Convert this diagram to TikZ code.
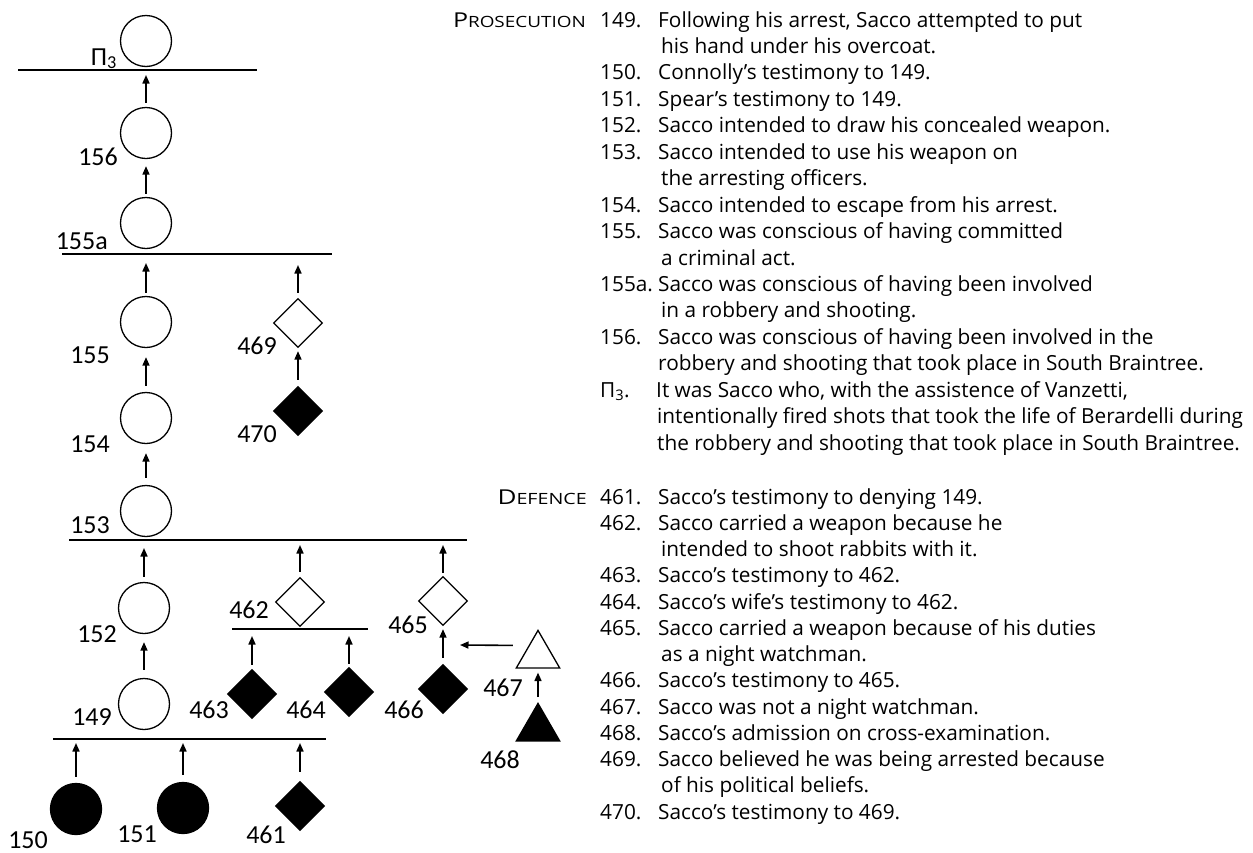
\documentclass[tikz,border=0pt]{standalone}
\usepackage{fontspec}
\usepackage{graphicx}
\setmainfont{Open Sans}
\newfontfamily\labfont{Carlito}
\usetikzlibrary{shapes.geometric,arrows.meta,calc}
\begin{document}
\begin{tikzpicture}[x=1pt,y=-1pt,
 circ/.style={circle,draw,line width=1.3pt,minimum size=51pt,inner sep=0pt},
 fcirc/.style={circ,fill=black},
 dia/.style={diamond,draw,line width=1.3pt,minimum size=49pt,inner sep=0pt},
 fdia/.style={dia,fill=black},
 tri/.style={regular polygon,regular polygon sides=3,draw,line width=1.3pt,minimum size=50pt,inner sep=0pt},
 ftri/.style={tri,fill=black},
 bar/.style={line width=1.6pt},
 arr/.style={line width=1.6pt,-{Triangle[length=8.5pt,width=7pt]}},
 lab/.style={anchor=base east,inner sep=0pt,font=\labfont\fontsize{26}{30}\selectfont},
 txt/.style={anchor=base west,inner sep=0pt,font=\fontsize{20.8}{24}\selectfont},
 head/.style={anchor=base east,inner sep=0pt,font=\fontsize{20.5}{24}\selectfont},
]
\useasboundingbox (0,0) rectangle (1253,852);

% ---------- bars ----------
\draw[bar] (18,70) -- (257,70);
\draw[bar] (62,254) -- (332,254);
\draw[bar] (69,540) -- (467,540);
\draw[bar] (232,629) -- (368,629);
\draw[bar] (53,739) -- (326,739);

% ---------- nodes ----------
\node[circ] (P3) at (146,41) {};
\node[circ] (c156) at (146,133) {};
\node[circ] (c155a) at (146,223) {};
\node[circ] (c155) at (146,322) {};
\node[circ] (c154) at (146,418) {};
\node[circ] (c153) at (146,511) {};
\node[circ] (c152) at (144,608) {};
\node[circ] (c149) at (144,704) {};
\node[fcirc] (c150) at (76,809) {};
\node[fcirc] (c151) at (183,808) {};
\node[dia] (d469) at (298,323) {};
\node[fdia] (d470) at (298,411) {};
\node[dia] (d462) at (300,602) {};
\node[dia] (d465) at (443,601) {};
\node[fdia] (d463) at (252,694) {};
\node[fdia] (d464) at (349,692) {};
\node[fdia] (d466) at (443,689) {};
\node[fdia] (d461) at (300,806) {};
\node[tri] (t467) at (538,655.4) {};
\node[ftri] (t468) at (538,728.4) {};

% ---------- arrow tips on bars ----------
\coordinate (k156) at (146,75);
\coordinate (k155) at (146,263);
\coordinate (k469) at (298,265);
\coordinate (k152) at (144,548);
\coordinate (k462) at (300,545);
\coordinate (k465) at (443,545);
\coordinate (k463) at (252,636);
\coordinate (k464) at (349,636);
\coordinate (k467) at (460,645);
\coordinate (k150) at (76,743);
\coordinate (k151) at (183,743);
\coordinate (k461) at (300,743);

% ---------- arrows ----------
\draw[arr,shorten <=4pt] (c156) -- (k156);
\draw[arr,shorten <=3pt,shorten >=7pt] (c155a) -- (c156);
\draw[arr,shorten <=3pt] (c155) -- (k155);
\draw[arr,shorten <=6pt,shorten >=9pt] (c154) -- (c155);
\draw[arr,shorten <=7pt,shorten >=9pt] (c153) -- (c154);
\draw[arr,shorten <=5pt] (d469) -- (k469);
\draw[arr,shorten <=6pt,shorten >=3pt] (d470) -- (d469);
\draw[arr,shorten <=5pt] (c152) -- (k152);
\draw[arr,shorten <=8pt,shorten >=8pt] (c149) -- (c152);
\draw[arr,shorten <=5pt] (d462) -- (k462);
\draw[arr,shorten <=3pt] (d465) -- (k465);
\draw[arr,shorten <=4pt] (d463) -- (k463);
\draw[arr,shorten <=3pt] (d464) -- (k464);
\draw[arr,shorten <=6pt,shorten >=3pt] (d466) -- (d465);
\draw[arr] ($(t467.west)+(-10,-10)$) -- (k467);
\draw[arr,shorten <=5pt,shorten >=4pt] (t468) -- (t467);
\draw[arr,shorten <=6pt] (c150) -- (k150);
\draw[arr,shorten <=7pt] (c151) -- (k151);
\draw[arr,shorten <=9pt] (d461) -- (k461);

% ---------- labels ----------
\node[lab] (lP3) at (117,65) {Π\textsubscript{3}};
\node[lab] (l156) at (118,165) {156};
\node[lab] (l155a) at (108,249) {155a};
\node[lab] (l155) at (110,363) {155};
\node[lab] (l154) at (110,452) {154};
\node[lab] (l153) at (110,533) {153};
\node[lab] (l152) at (117,642) {152};
\node[lab] (l149) at (112,725) {149};
\node[lab] (l150) at (48,848) {150};
\node[lab] (l151) at (157,842) {151};
\node[lab] (l461) at (286,843) {461};
\node[lab] (l462) at (269,618) {462};
\node[lab] (l463) at (229,718) {463};
\node[lab] (l464) at (326,718) {464};
\node[lab] (l465) at (428,633) {465};
\node[lab] (l466) at (424,718) {466};
\node[lab] (l467) at (523,696) {467};
\node[lab] (l468) at (520,768) {468};
\node[lab] (l469) at (277,354) {469};
\node[lab] (l470) at (277,442) {470};

% ---------- headings ----------
\node[head] (hp) at (586,27) {\scalebox{1.22}[1]{P{\fontsize{15.5}{18}\selectfont ROSECUTION}}};
\node[head] (hd) at (587,504) {\scalebox{1.27}[1]{D{\fontsize{15.5}{18}\selectfont EFENCE}}};

% ---------- prosecution list ----------
\node[txt] (n149) at (600,27) {149.};
\node[txt] (x149) at (658,27) {Following his arrest, Sacco attempted to put};
\node[txt] (x149b) at (661,53.45) {his hand under his overcoat.};
\node[txt] (n150) at (600,79.9) {150.};
\node[txt] (x150) at (658,79.9) {Connolly’s testimony to 149.};
\node[txt] (n151) at (600,106.35) {151.};
\node[txt] (x151) at (658,106.35) {Spear’s testimony to 149.};
\node[txt] (n152) at (600,132.8) {152.};
\node[txt] (x152) at (658,132.8) {Sacco intended to draw his concealed weapon.};
\node[txt] (n153) at (600,159.25) {153.};
\node[txt] (x153) at (658,159.25) {Sacco intended to use his weapon on};
\node[txt] (x153b) at (661,185.7) {the arresting officers.};
\node[txt] (n154) at (600,212.15) {154.};
\node[txt] (x154) at (658,212.15) {Sacco intended to escape from his arrest.};
\node[txt] (n155) at (600,238.6) {155.};
\node[txt] (x155) at (658,238.6) {Sacco was conscious of having committed};
\node[txt] (x155b) at (661,265.05) {a criminal act.};
\node[txt] (n155a) at (600,291.5) {155a.};
\node[txt] (x155a) at (658,291.5) {Sacco was conscious of having been involved};
\node[txt] (x155ab) at (661,317.95) {in a robbery and shooting.};
\node[txt] (n156) at (600,344.4) {156.};
\node[txt] (x156) at (658,344.4) {Sacco was conscious of having been involved in the};
\node[txt] (x156b) at (658,370.85) {robbery and shooting that took place in South Braintree.};
\node[txt] (nP3) at (600,397.3) {Π\textsubscript{3}.};
\node[txt] (xP3) at (656,397.3) {It was Sacco who, with the assistence of Vanzetti,};
\node[txt] (xP3b) at (657,423.75) {intentionally fired shots that took the life of Berardelli during};
\node[txt] (xP3c) at (657,450.2) {the robbery and shooting that took place in South Braintree.};

% ---------- defence list ----------
\node[txt] (n461) at (600,504) {461.};
\node[txt] (x461) at (658,504) {Sacco’s testimony to denying 149.};
\node[txt] (n462) at (600,530.25) {462.};
\node[txt] (x462) at (658,530.25) {Sacco carried a weapon because he};
\node[txt] (x462b) at (661,556.5) {intended to shoot rabbits with it.};
\node[txt] (n463) at (600,582.75) {463.};
\node[txt] (x463) at (658,582.75) {Sacco’s testimony to 462.};
\node[txt] (n464) at (600,609) {464.};
\node[txt] (x464) at (658,609) {Sacco’s wife’s testimony to 462.};
\node[txt] (n465) at (600,635.25) {465.};
\node[txt] (x465) at (658,635.25) {Sacco carried a weapon because of his duties};
\node[txt] (x465b) at (661,661.5) {as a night watchman.};
\node[txt] (n466) at (600,687.75) {466.};
\node[txt] (x466) at (658,687.75) {Sacco’s testimony to 465.};
\node[txt] (n467) at (600,714) {467.};
\node[txt] (x467) at (658,714) {Sacco was not a night watchman.};
\node[txt] (n468) at (600,740.25) {468.};
\node[txt] (x468) at (658,740.25) {Sacco’s admission on cross-examination.};
\node[txt] (n469) at (600,766.5) {469.};
\node[txt] (x469) at (658,766.5) {Sacco believed he was being arrested because};
\node[txt] (x469b) at (661,792.75) {of his political beliefs.};
\node[txt] (n470) at (600,819) {470.};
\node[txt] (x470) at (658,819) {Sacco’s testimony to 469.};
\end{tikzpicture}
\end{document}
